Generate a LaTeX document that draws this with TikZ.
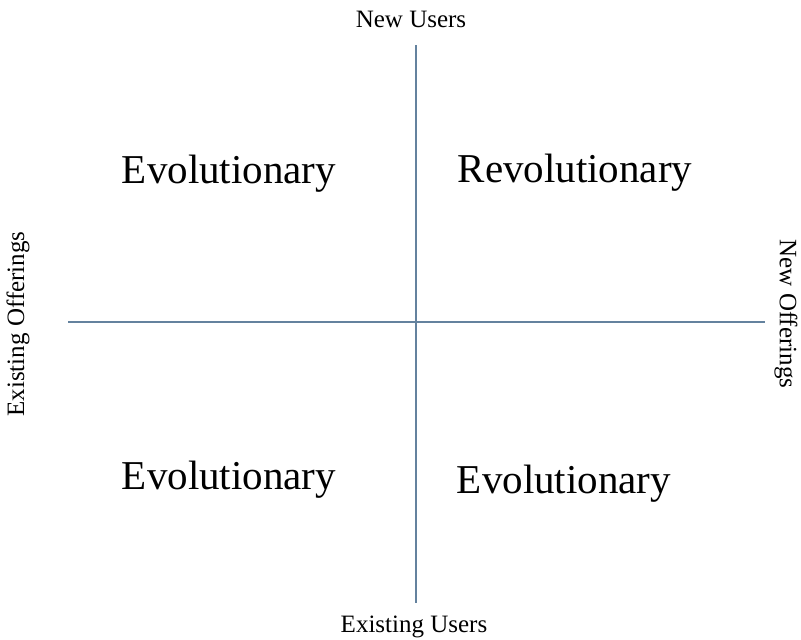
\documentclass[tikz,border=0pt]{standalone}
\usepackage{fontspec}
\setmainfont{Liberation Serif}
\definecolor{axis}{RGB}{100,130,158}
\begin{document}
\begin{tikzpicture}[x=1pt,y=-1pt,
  axisline/.style={draw=axis,line width=1.1pt},
  big/.style={font=\fontsize{41}{45}\selectfont,inner sep=0pt,anchor=base},
  small/.style={font=\fontsize{25}{28}\selectfont,inner sep=0pt}]
\useasboundingbox (0,0) rectangle (801,640);
\coordinate (vt) at (416,45);
\coordinate (vb) at (416,603);
\coordinate (hl) at (68,322);
\coordinate (hr) at (765,322);
\draw[axisline] (vt) -- (vb);
\draw[axisline] (hl) -- (hr);
\node[small,anchor=base] (nu) at (411,27) {New Users};
\node[small,anchor=base] (eu) at (414,632) {Existing Users};
\node[small,rotate=90] (eo) at (18,324) {Existing Offerings};
\node[small,rotate=-90] (no) at (786,314) {New Offerings};
\node[big] (tl) at (229,183) {Evolutionary};
\node[big] (tr) at (575,182) {Revolutionary};
\node[big] (bl) at (229,489) {Evolutionary};
\node[big] (br) at (564,493) {Evolutionary};
\end{tikzpicture}
\end{document}
